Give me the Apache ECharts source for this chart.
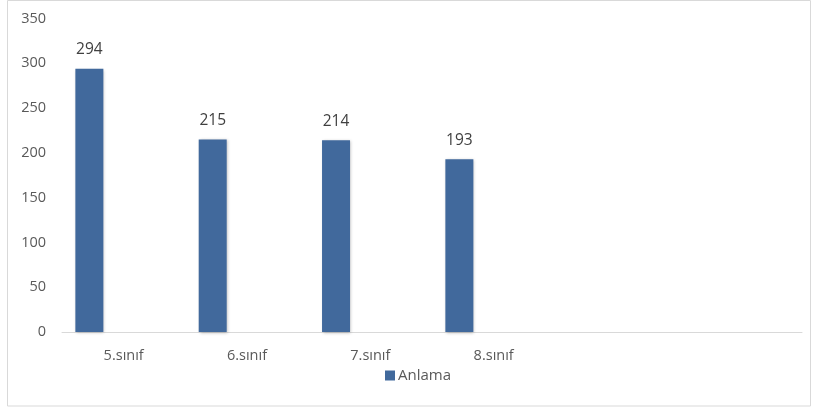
<!DOCTYPE html>
<html><head><meta charset="utf-8">
<script src="https://cdn.jsdelivr.net/npm/echarts@6/dist/echarts.min.js"></script>
<style>html,body{margin:0;padding:0;background:#fff}#c{width:813px;height:412px}</style>
</head><body><div id="c"></div>
<script>
const categories = ['5.sınıf', '6.sınıf', '7.sınıf', '8.sınıf', '', ''];
const anlama = [294, 215, 214, 193, null, null];
const emptySeries = [null, null, null, null, null, null];
const yTicks = { min: 0, max: 350, interval: 50 };

const font = 'Open Sans';
const chart = echarts.init(document.getElementById('c'));
chart.setOption({
  animation: false,
  textStyle: { fontFamily: font },
  graphic: [{
    type: 'rect', shape: { x: 7.5, y: 0.5, width: 803, height: 405.5 },
    style: { fill: null, stroke: '#d9d9d9', lineWidth: 1 }, silent: true, z: -10
  }],
  legend: {
    data: ['Anlama'], left: 385, top: 368, padding: 0, itemWidth: 10, itemHeight: 10, itemGap: 4,
    icon: 'rect', textStyle: { color: '#595959', fontSize: 15, fontFamily: font, padding: [0, 0, 0, -2] }
  },
  grid: { left: 62, right: 11, top: 18.5, bottom: 80 },
  xAxis: {
    type: 'category', data: categories,
    axisLine: { show: true, lineStyle: { color: '#d9d9d9', width: 1 } },
    axisTick: { show: false },
    axisLabel: { color: '#595959', fontSize: 14.5, margin: 16, fontFamily: font }
  },
  yAxis: {
    type: 'value', min: yTicks.min, max: yTicks.max, interval: yTicks.interval,
    axisLine: { show: false }, axisTick: { show: false }, splitLine: { show: false },
    axisLabel: { color: '#595959', fontSize: 14.5, margin: 16, fontFamily: font }
  },
  series: [
    { name: 'Anlama', type: 'bar', data: anlama,
      barWidth: 28, barGap: '145%',
      itemStyle: { color: '#41699c', shadowColor: 'rgba(0,0,0,0.25)', shadowBlur: 3, shadowOffsetX: 1, shadowOffsetY: 1 },
      label: { show: true, position: 'top', distance: 11, color: '#404040', fontSize: 15.5, fontFamily: font } },
    { name: '', type: 'bar', data: emptySeries, barWidth: 28 }
  ]
});
</script></body></html>
